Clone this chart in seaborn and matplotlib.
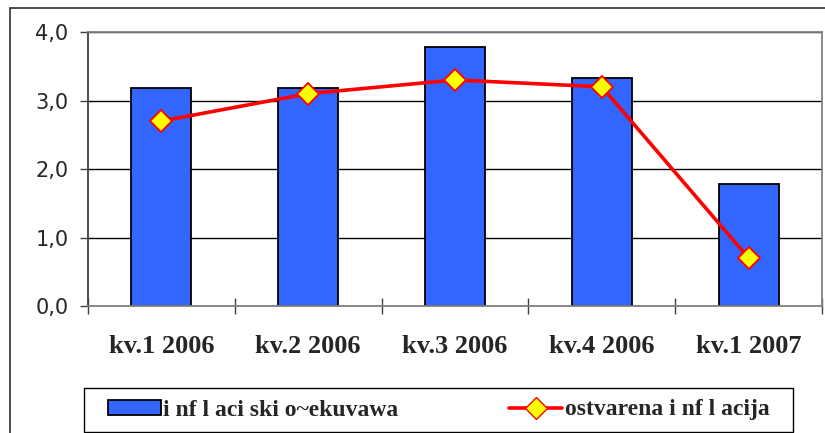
import matplotlib
matplotlib.use("Agg")
import matplotlib.pyplot as plt
import seaborn as sns
import numpy as np
import pandas as pd
from matplotlib.patches import Patch, Rectangle
from matplotlib.lines import Line2D

categories = ["kv.1 2006", "kv.2 2006", "kv.3 2006", "kv.4 2006", "kv.1 2007"]
expected = [3.18, 3.18, 3.78, 3.33, 1.78]
realized = [2.7, 3.1, 3.3, 3.2, 0.7]
yticks = [0.0, 1.0, 2.0, 3.0, 4.0]
ytick_labels = ["0,0", "1,0", "2,0", "3,0", "4,0"]
label_bar = "i nf l aci ski o~ekuvawa"
label_line = "ostvarena i nf l acija"

sns.set_style("white")
plt.rcParams["font.family"] = ["DejaVu Sans"]

df = pd.DataFrame({"cat": categories, "exp": expected, "real": realized})

fig = plt.figure(figsize=(8.25, 4.33), dpi=100)
ax = fig.add_axes([88/825, 1-306/433, (822-88)/825, (306-32)/433])

sns.barplot(data=df, x="cat", y="exp", color="#3366FF", saturation=1,
            edgecolor="black", linewidth=1.3, width=0.41, ax=ax, zorder=2)
sns.pointplot(data=df, x="cat", y="real", color="red", markers="D",
              linewidth=2.6, markersize=11, markerfacecolor="yellow",
              markeredgecolor="red", markeredgewidth=1.3, ax=ax, zorder=3)

ax.set_ylim(0, 4)
ax.set_xlim(-0.5, 4.5)
ax.set_yticks(yticks)
ax.set_yticklabels(ytick_labels, fontsize=15, fontfamily="DejaVu Sans")
ax.yaxis.grid(True, color="black", linewidth=1)
ax.set_axisbelow(True)
ax.set_xlabel("")
ax.set_ylabel("")
ax.tick_params(axis="y", length=6, width=1, color="#404040", pad=8, left=True)
ax.tick_params(axis="x", which="major", length=0, pad=21)
ax.set_xticks(np.arange(-0.5, 4.6, 1), minor=True)
ax.tick_params(axis="x", which="minor", length=12, direction="inout", color="#404040", width=1, bottom=True)
for lab in ax.get_xticklabels():
    lab.set_fontfamily(["Liberation Serif", "DejaVu Serif"])
    lab.set_fontweight("bold")
    lab.set_fontsize(19)
for s in ["top", "right"]:
    ax.spines[s].set_visible(True)
    ax.spines[s].set_color("#808080")
    ax.spines[s].set_linewidth(1.3)
ax.spines["left"].set_color("#404040")
ax.spines["bottom"].set_color("#808080")
ax.spines["left"].set_linewidth(1.3)
ax.spines["bottom"].set_linewidth(1.3)

# outer chart frame
fig.patches.append(Rectangle((10/825, -0.1), 1.2, 1.1 - 8/433, transform=fig.transFigure,
                             fill=False, edgecolor="#303030", linewidth=1.2, clip_on=False))
# legend frame
fig.patches.append(Rectangle((84/825, 1/433), (793-84)/825, 44/433, transform=fig.transFigure,
                             fill=False, edgecolor="black", linewidth=1.0))

handles = [Patch(facecolor="#3366FF", edgecolor="black", linewidth=1.3),
           Line2D([], [], color="red", linewidth=2.6, marker="D", markersize=11,
                  markerfacecolor="yellow", markeredgecolor="red")]
leg = fig.legend(handles, [label_bar, label_line], ncol=2, mode="expand",
                 bbox_to_anchor=(84/825, 1/433, (793-84)/825, 44/433), loc="center",
                 prop={"family": ["Liberation Serif", "DejaVu Serif"], "weight": "bold", "size": 17},
                 frameon=False, borderaxespad=0,
                 handlelength=2.25, handleheight=0.6, handletextpad=0.1, borderpad=1.0)

fig.savefig("out.png", dpi=100)
